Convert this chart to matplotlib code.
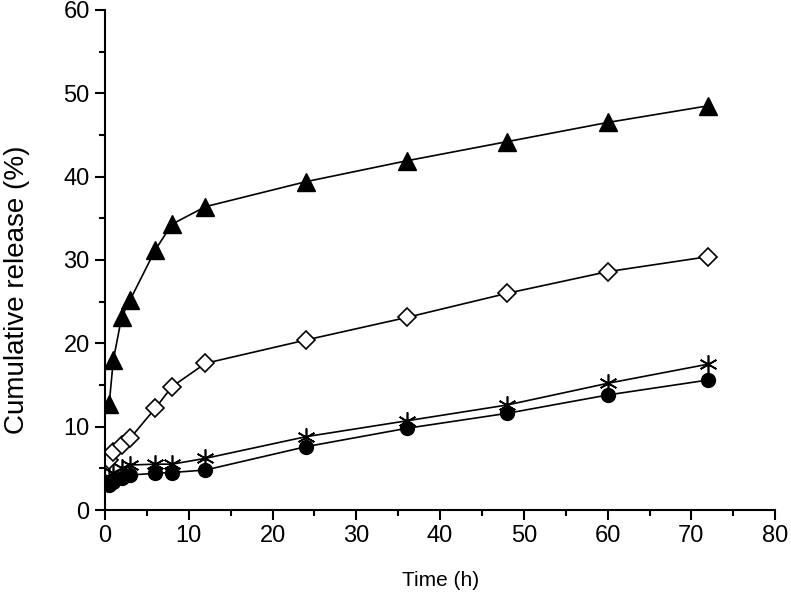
import matplotlib
matplotlib.use("Agg")
import matplotlib.pyplot as plt
from matplotlib.ticker import MultipleLocator

plt.rcParams['font.family'] = ['Liberation Sans', 'DejaVu Sans']

# sampling times (h)
time = [0.5, 1, 2, 3, 6, 8, 12, 24, 36, 48, 60, 72]

# cumulative release (%)
tri = [12.7, 18.0, 23.2, 25.2, 31.2, 34.3, 36.4, 39.4, 41.9, 44.2, 46.5, 48.5]
dia = [6.0, 7.0, 7.8, 8.6, 12.2, 14.8, 17.6, 20.4, 23.1, 26.0, 28.6, 30.4]
star = [4.0, 4.5, 5.0, 5.4, 5.5, 5.5, 6.2, 8.8, 10.7, 12.6, 15.2, 17.5]
circ = [3.0, 3.4, 3.8, 4.2, 4.4, 4.5, 4.8, 7.6, 9.8, 11.6, 13.8, 15.6]

fig = plt.figure(figsize=(7.91, 6.01), dpi=100)
ax = fig.add_axes([0.1327, 0.1514, 0.8473, 0.832])

lw = 1.2
ax.plot(time, circ, color='black', lw=lw, marker='o', ms=10, mfc='black', mec='black')
ax.plot(time, star, color='black', lw=lw, marker=(6, 2, 0), ms=13, mec='black', mew=1.2)
ax.plot(time, dia, color='black', lw=lw, marker='D', ms=9, mfc='white', mec='black', mew=1.2)
ax.plot(time, tri, color='black', lw=lw, marker='^', ms=13, mfc='black', mec='black')

ax.set_xlim(0, 80)
ax.set_ylim(0, 60)
ax.xaxis.set_major_locator(MultipleLocator(10))
ax.xaxis.set_minor_locator(MultipleLocator(5))
ax.yaxis.set_major_locator(MultipleLocator(10))
ax.yaxis.set_minor_locator(MultipleLocator(5))

for s in ['top', 'right']:
    ax.spines[s].set_visible(False)
for s in ['left', 'bottom']:
    ax.spines[s].set_linewidth(1.5)

ax.tick_params(which='major', direction='out', length=7, width=1.5, labelsize=17, pad=4)
ax.tick_params(which='minor', direction='out', length=4, width=1.5)

ax.set_xlabel('Time (h)', fontsize=15, labelpad=17)
ax.set_ylabel('Cumulative release (%)', fontsize=20)
ax.yaxis.set_label_coords(-0.112, 0.44)

fig.savefig('out.png', dpi=100)
